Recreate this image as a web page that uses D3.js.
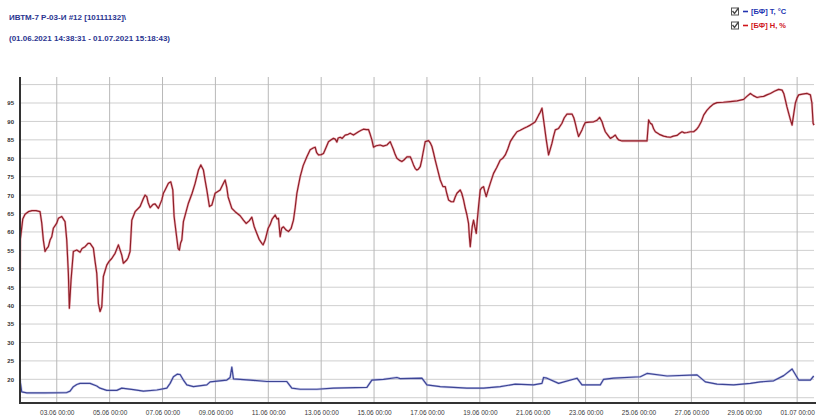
<!DOCTYPE html>
<html>
<head>
<meta charset="utf-8">
<script src="https://cdn.jsdelivr.net/npm/d3@7"></script>
<style>
  html, body { margin: 0; padding: 0; background: #fff; }
  svg { display: block; }
</style>
</head>
<body>
<svg id="chart" width="816" height="418"></svg>
<script>
// Logger record: ИВТМ-7, June 2021
const titleLines = ["ИВТМ-7 Р-03-И #12 [10111132]\\", "(01.06.2021 14:38:31 - 01.07.2021 15:18:43)"];
const legendLabels = ["[БФ] Т, °C", "[БФ] Н, %"];
const rangeStart = 1 + (14 * 3600 + 38 * 60 + 31) / 86400; // 01.06 14:38:31, as day of June
const rangeEnd = 31 + (15 * 3600 + 18 * 60 + 43) / 86400;  // 01.07 15:18:43

const xTickLabels = ["03.06 00:00", "05.06 00:00", "07.06 00:00", "09.06 00:00", "11.06 00:00",
  "13.06 00:00", "15.06 00:00", "17.06 00:00", "19.06 00:00", "21.06 00:00", "23.06 00:00",
  "25.06 00:00", "27.06 00:00", "29.06 00:00", "01.07 00:00"];
const yTickLabels = [20, 25, 30, 35, 40, 45, 50, 55, 60, 65, 70, 75, 80, 85, 90, 95];
const yGridValues = [15, 20, 25, 30, 35, 40, 45, 50, 55, 60, 65, 70, 75, 80, 85, 90, 95, 100];

// Relative humidity, %  (time as day of June)
const humDay = [1.611, 1.623, 1.714, 1.801, 1.926, 2.066, 2.217, 2.368, 2.433, 2.493, 2.557, 2.622,
  2.682, 2.747, 2.811, 2.871, 3.000, 3.061, 3.189, 3.276, 3.314, 3.378, 3.439, 3.477, 3.541, 3.628,
  3.757, 3.882, 3.957, 4.071, 4.184, 4.260, 4.385, 4.449, 4.513, 4.574, 4.638, 4.703, 4.763, 4.892,
  4.979, 5.081, 5.206, 5.331, 5.459, 5.520, 5.649, 5.698, 5.773, 5.838, 5.963, 6.152, 6.277, 6.341,
  6.405, 6.454, 6.530, 6.644, 6.719, 6.844, 6.973, 7.033, 7.098, 7.223, 7.313, 7.389, 7.438, 7.540,
  7.590, 7.639, 7.684, 7.730, 7.790, 7.892, 7.979, 8.119, 8.233, 8.358, 8.448, 8.498, 8.547, 8.611,
  8.675, 8.774, 8.865, 8.989, 9.179, 9.304, 9.368, 9.432, 9.481, 9.621, 9.746, 9.935, 10.060, 10.162,
  10.276, 10.378, 10.465, 10.567, 10.654, 10.756, 10.806, 10.881, 10.995, 11.070, 11.146, 11.260,
  11.335, 11.385, 11.449, 11.506, 11.574, 11.676, 11.763, 11.865, 11.952, 12.016, 12.081, 12.206,
  12.319, 12.459, 12.584, 12.697, 12.773, 12.830, 12.898, 13.000, 13.087, 13.189, 13.276, 13.378,
  13.465, 13.530, 13.594, 13.643, 13.719, 13.795, 13.908, 14.022, 14.097, 14.222, 14.324, 14.411,
  14.514, 14.601, 14.703, 14.790, 14.854, 14.918, 14.979, 15.081, 15.232, 15.346, 15.486, 15.611,
  15.668, 15.736, 15.800, 15.864, 15.951, 16.053, 16.140, 16.243, 16.368, 16.424, 16.492, 16.557,
  16.621, 16.670, 16.746, 16.803, 16.848, 16.935, 17.060, 17.124, 17.189, 17.249, 17.313, 17.408,
  17.503, 17.605, 17.692, 17.749, 17.817, 17.919, 18.006, 18.070, 18.134, 18.259, 18.316, 18.384,
  18.448, 18.513, 18.573, 18.607, 18.638, 18.676, 18.713, 18.763, 18.808, 18.865, 18.902, 18.952,
  19.016, 19.073, 19.141, 19.186, 19.243, 19.319, 19.394, 19.519, 19.640, 19.773, 19.867, 19.962,
  20.057, 20.151, 20.265, 20.405, 20.529, 20.654, 20.775, 20.908, 21.021, 21.097, 21.222, 21.286,
  21.350, 21.411, 21.513, 21.600, 21.665, 21.729, 21.789, 21.854, 21.979, 22.107, 22.194, 22.296,
  22.383, 22.486, 22.554, 22.610, 22.675, 22.735, 22.800, 22.864, 22.924, 22.989, 23.140, 23.303,
  23.431, 23.530, 23.621, 23.681, 23.746, 23.840, 23.935, 24.029, 24.124, 24.188, 24.249, 24.377,
  24.691, 25.070, 25.323, 25.384, 25.448, 25.512, 25.573, 25.637, 25.789, 25.951, 26.080, 26.205,
  26.318, 26.458, 26.545, 26.648, 26.735, 26.837, 26.962, 27.086, 27.189, 27.276, 27.378, 27.465,
  27.586, 27.718, 27.832, 27.972, 28.210, 28.475, 28.729, 28.978, 29.099, 29.232, 29.345, 29.485,
  29.610, 29.735, 29.856, 29.988, 30.140, 30.303, 30.431, 30.499, 30.556, 30.613, 30.681, 30.745,
  30.809, 30.870, 30.934, 30.999, 31.059, 31.199, 31.377, 31.502, 31.559, 31.604, 31.638];
const humVal = [49.7, 58.0, 63.5, 64.8, 65.5, 65.8, 65.8, 65.5, 62.4, 57.8, 54.7, 55.5,
  56.0, 57.8, 58.7, 61.0, 62.4, 63.7, 64.2, 63.2, 62.8, 57.8, 48.8, 39.3, 47.0, 54.7,
  55.1, 54.5, 55.5, 56.0, 56.9, 56.9, 55.6, 52.0, 48.8, 40.6, 38.4, 39.7, 47.9, 51.0,
  52.0, 52.8, 54.2, 56.5, 53.7, 51.5, 52.4, 53.0, 54.7, 63.2, 65.5, 66.9, 69.1, 70.0,
  69.6, 68.0, 66.6, 67.5, 67.6, 66.4, 68.7, 70.5, 71.4, 73.2, 73.6, 71.4, 64.2, 58.3,
  55.5, 55.1, 57.0, 57.8, 62.8, 65.5, 67.8, 70.5, 73.2, 76.8, 78.2, 77.5, 76.8, 74.0,
  71.4, 66.9, 67.3, 70.5, 71.4, 73.2, 74.1, 72.0, 69.5, 66.4, 65.5, 64.4, 63.2, 62.3,
  63.0, 64.0, 61.5, 59.6, 58.0, 56.9, 56.5, 57.8, 61.0, 62.0, 63.5, 64.6,
  63.5, 63.7, 58.7, 61.0, 61.4, 60.5, 60.1, 61.0, 63.2, 66.5, 70.5, 75.0,
  78.0, 80.4, 82.3, 82.8, 83.0, 81.5, 80.9, 81.0, 81.3, 83.0, 84.5, 85.0,
  85.4, 85.2, 84.4, 85.5, 85.7, 85.4, 86.3, 86.5, 86.8, 86.3, 86.8, 87.2,
  87.6, 87.9, 87.8, 87.8, 86.5, 85.0, 83.0, 83.4, 83.6, 83.3, 83.6, 84.5,
  83.5, 82.3, 81.0, 80.0, 79.5, 79.1, 79.6, 80.4, 80.4, 79.5, 78.2, 77.2,
  76.8, 77.0, 77.7, 79.5, 81.3, 84.5, 84.8, 84.2, 83.2, 81.5, 79.5, 76.8,
  74.1, 72.3, 72.3, 70.5, 68.7, 68.2, 68.2, 69.5, 70.5, 71.4, 70.5, 68.7,
  66.5, 64.6, 62.3, 58.5, 56.0, 59.0, 61.5, 63.2, 61.5, 59.6, 63.0, 66.9,
  71.4, 72.0, 72.3, 71.0, 69.6, 71.5, 73.2, 75.9, 77.5, 79.5, 80.0, 80.9,
  82.5, 84.5, 85.8, 87.2, 87.6, 88.1, 88.5, 89.0, 89.5, 89.9, 91.7, 92.5,
  93.6, 90.4, 85.0, 80.9, 82.5, 84.1, 86.0, 87.7, 88.1, 89.5, 91.0, 92.0,
  92.0, 92.0, 91.0, 89.5, 87.5, 85.9, 86.8, 87.7, 88.8, 89.7, 89.8, 89.9,
  90.3, 91.1, 89.9, 88.5, 87.2, 86.3, 85.4, 85.8, 86.3, 85.5, 85.0, 84.7,
  84.7, 84.7, 84.7, 90.4, 89.5, 89.2, 88.0, 87.2, 86.5, 86.0, 85.8, 85.7,
  86.0, 86.2, 86.7, 87.2, 86.9, 87.0, 87.2, 87.2, 87.8, 88.6, 90.0, 91.7,
  93.0, 94.0, 94.7, 95.1, 95.2, 95.4, 95.6, 96.0, 96.8, 97.6, 97.0, 96.5,
  96.7, 96.8, 97.2, 97.6, 98.2, 98.7, 98.5, 97.5, 95.8, 94.0, 92.2, 90.5,
  89.0, 92.0, 95.0, 96.4, 97.2, 97.4, 97.6, 97.2, 95.0, 89.5, 89.0];

// Air temperature, °C
const tempDay = [1.611, 1.676, 1.865, 2.557, 3.378, 3.503, 3.628, 3.757, 3.882, 4.260, 4.513, 4.638,
  4.892, 5.270, 5.459, 5.898, 6.277, 6.784, 7.162, 7.287, 7.412, 7.552, 7.665, 7.790, 7.919, 8.168,
  8.675, 8.800, 9.432, 9.557, 9.621, 9.682, 10.314, 10.946, 11.702, 11.891, 12.206, 12.837, 13.465,
  14.729, 14.918, 15.357, 15.864, 15.989, 16.810, 16.999, 17.503, 18.513, 19.141, 19.773, 20.340,
  21.033, 21.350, 21.411, 21.540, 21.979, 22.675, 22.864, 23.556, 23.681, 24.060, 25.070, 25.323,
  26.080, 27.215, 27.529, 27.972, 28.600, 29.232, 29.610, 30.113, 30.492, 30.809, 31.059, 31.502, 31.627];
const tempVal = [19.8, 16.6, 16.3, 16.3, 16.4, 16.8, 18.0, 18.6, 18.9, 18.9, 18.2, 17.6,
  17.0, 17.0, 17.6, 17.2, 16.8, 17.1, 17.6, 18.9, 20.7, 21.4, 21.3, 19.8, 18.5, 18.0,
  18.5, 19.3, 19.8, 20.5, 23.3, 20.1, 19.8, 19.4, 19.4, 17.6, 17.3, 17.3, 17.6,
  17.8, 19.8, 20.0, 20.5, 20.2, 20.3, 18.5, 18.0, 17.6, 17.6, 18.0, 18.7,
  18.5, 18.9, 20.5, 20.3, 18.9, 20.3, 18.5, 18.5, 20.0, 20.3, 20.7, 21.6,
  20.9, 21.2, 19.3, 18.7, 18.5, 18.9, 19.3, 19.6, 21.0, 22.8, 19.8, 19.8, 20.9];

const DAY_MS = 86400000;
const june1 = new Date(2021, 5, 1);
const dayToDate = d => new Date(june1.getTime() + (d - 1) * DAY_MS);
const parseTick = d3.timeParse("%d.%m %H:%M");
const tickDates = xTickLabels.map(s => {
  const t = parseTick(s);
  return new Date(2021, t.getMonth(), t.getDate(), t.getHours(), t.getMinutes());
});
const tickText = new Map(tickDates.map((t, i) => [t.getTime(), xTickLabels[i]]));

const svg = d3.select("#chart");
const plotLeft = 20, plotRight = 814, plotTop = 77, plotBottom = 403;

const x = d3.scaleTime()
  .domain([dayToDate(rangeStart), dayToDate(rangeEnd)])
  .range([plotLeft, plotRight]);
const y = d3.scaleLinear()
  .domain([13.57, 102.06])
  .range([plotBottom, plotTop]);

// Header
const title = svg.append("g").attr("font-family", "'Liberation Sans', Arial, sans-serif")
  .attr("font-weight", "bold").attr("font-size", 8).attr("fill", "#2b3590");
title.append("text").attr("x", 9).attr("y", 20).text(titleLines[0]);
title.append("text").attr("x", 9).attr("y", 41).text(titleLines[1]);

// Legend with checkboxes
const legendColors = ["#2233b0", "#d0151b"];
const legend = svg.append("g").attr("font-family", "'Liberation Sans', Arial, sans-serif")
  .attr("font-weight", "bold").attr("font-size", 7.5);
legendLabels.forEach((lab, i) => {
  const cy = 11.5 + i * 14;
  const g = legend.append("g").attr("transform", `translate(731,${cy})`);
  g.append("rect").attr("x", 0.5).attr("y", -3.5).attr("width", 7).attr("height", 7)
    .attr("fill", "#fff").attr("stroke", "#555").attr("stroke-width", 1);
  g.append("path").attr("d", "M1.5,-0.5 L3.5,2 L7.5,-3.5")
    .attr("fill", "none").attr("stroke", "#444").attr("stroke-width", 1.3);
  g.append("line").attr("x1", 12).attr("x2", 17).attr("y1", 0).attr("y2", 0)
    .attr("stroke", legendColors[i]).attr("stroke-width", 1.6);
  g.append("text").attr("x", 20).attr("y", 2.8).attr("fill", legendColors[i]).text(lab);
});

// Grid
const grid = svg.append("g");
grid.selectAll("line.h").data(yGridValues).join("line").attr("class", "h")
  .attr("x1", plotLeft).attr("x2", plotRight)
  .attr("y1", d => y(d)).attr("y2", d => y(d))
  .attr("stroke", "#cfcfcf").attr("stroke-width", 1);
grid.selectAll("line.v").data(tickDates).join("line").attr("class", "v")
  .attr("x1", d => x(d)).attr("x2", d => x(d))
  .attr("y1", plotTop).attr("y2", plotBottom)
  .attr("stroke", "#b8b8b8").attr("stroke-width", 1);

// Series
const line = d3.line().x(d => x(dayToDate(d[0]))).y(d => y(d[1]));
const humPts = humDay.map((d, i) => [d, humVal[i]]);
const tempPts = tempDay.map((d, i) => [d, tempVal[i]]);
svg.append("path").datum(humPts).attr("d", line)
  .attr("fill", "none").attr("stroke", "#e06070").attr("stroke-opacity", 0.45)
  .attr("stroke-width", 2.4).attr("stroke-linejoin", "round");
svg.append("path").datum(humPts).attr("d", line)
  .attr("fill", "none").attr("stroke", "#8e1f28").attr("stroke-width", 1.2)
  .attr("stroke-linejoin", "round");
svg.append("path").datum(tempPts).attr("d", line)
  .attr("fill", "none").attr("stroke", "#8c90d8").attr("stroke-opacity", 0.45)
  .attr("stroke-width", 2.4).attr("stroke-linejoin", "round");
svg.append("path").datum(tempPts).attr("d", line)
  .attr("fill", "none").attr("stroke", "#3d4595").attr("stroke-width", 1.2)
  .attr("stroke-linejoin", "round");

// Axes
const xAxis = d3.axisBottom(x).tickValues(tickDates).tickSize(0)
  .tickFormat(d => tickText.get(d.getTime()));
const gx = svg.append("g").attr("transform", `translate(0,${plotBottom})`).call(xAxis);
gx.select(".domain").remove();
gx.selectAll("text").attr("dy", 0).attr("y", 12)
  .attr("font-family", "'Liberation Sans', Arial, sans-serif")
  .attr("font-size", 6.5).attr("fill", "#3a3a3a");

const yAxis = d3.axisLeft(y).tickValues(yTickLabels).tickSize(0).tickPadding(6);
const gy = svg.append("g").attr("transform", `translate(${plotLeft},0)`).call(yAxis);
gy.select(".domain").remove();
gy.selectAll("text").attr("font-family", "'Liberation Sans', Arial, sans-serif")
  .attr("font-weight", "bold").attr("font-size", 6).attr("fill", "#333");

svg.append("line").attr("x1", plotLeft).attr("x2", plotLeft).attr("y1", plotTop).attr("y2", plotBottom + 1)
  .attr("stroke", "#333").attr("stroke-width", 2);
svg.append("line").attr("x1", plotLeft - 1).attr("x2", 816).attr("y1", plotBottom).attr("y2", plotBottom)
  .attr("stroke", "#333").attr("stroke-width", 2);
</script>
</body>
</html>
